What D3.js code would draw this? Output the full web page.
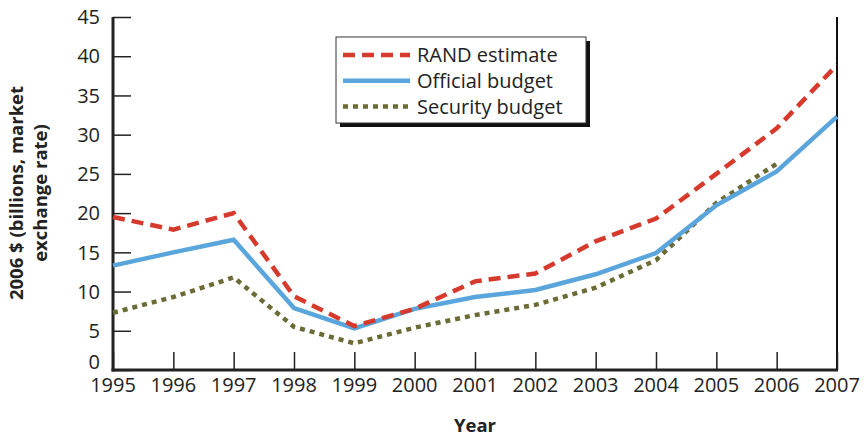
<!DOCTYPE html>
<html><head><meta charset="utf-8">
<script src="https://cdn.jsdelivr.net/npm/d3@7"></script>
<style>body{margin:0;background:#fff}svg{display:block}</style>
</head><body>
<svg id="c" width="866" height="440"></svg>
<script>
const years = [1995,1996,1997,1998,1999,2000,2001,2002,2003,2004,2005,2006,2007];
const randEstimate   = [19.5,17.9,20.0,9.4,5.6,7.8,11.3,12.3,16.4,19.3,25.0,30.8,38.9];
const officialBudget = [13.3,15.0,16.6,7.9,5.3,7.8,9.3,10.2,12.2,14.9,21.0,25.3,32.3];
const securityBudget = [7.3,9.3,11.8,5.5,3.4,5.4,7.0,8.3,10.5,14.0,21.3,26.3,null];
const yTicks = [0,5,10,15,20,25,30,35,40,45];
const seriesNames = ["RAND estimate","Official budget","Security budget"];

const font = "'Open Sans', 'Noto Sans', sans-serif";
const svg = d3.select("#c");
const x = d3.scaleLinear().domain([1995,2007]).range([113,837]);
const y = d3.scaleLinear().domain([0,45]).range([370,17]);

// right border
svg.append("line").attr("x1",837).attr("x2",837).attr("y1",17).attr("y2",370)
  .attr("stroke","#111").attr("stroke-width",2);

// y axis
const ya = svg.append("g").attr("transform","translate(113,0)")
  .call(d3.axisRight(y).tickValues(yTicks).tickSize(18).tickFormat(""));
ya.select(".domain").remove();
ya.selectAll(".tick line").attr("stroke","#222").attr("stroke-width",1.5);
svg.append("g").selectAll("text").data(yTicks).join("text")
  .attr("x",100).attr("y",d=>y(d) - (d===0?8:0)).attr("dy","0.36em").attr("text-anchor","end")
  .attr("font-family",font).attr("font-size",20).attr("fill","#222").text(d=>d);

// x axis
const xa = svg.append("g").attr("transform","translate(0,370)")
  .call(d3.axisTop(x).tickValues(years).tickSize(18).tickFormat(""));
xa.select(".domain").remove();
xa.selectAll(".tick line").attr("stroke","#222").attr("stroke-width",1.5);
svg.append("g").selectAll("text").data(years).join("text")
  .attr("x",d=>x(d)).attr("y",392).attr("text-anchor","middle")
  .attr("font-family",font).attr("font-size",20).attr("fill","#222").text(d=>d);

svg.append("line").attr("x1",113).attr("x2",113).attr("y1",17).attr("y2",371.5)
  .attr("stroke","#222").attr("stroke-width",3);
svg.append("line").attr("x1",111.5).attr("x2",838).attr("y1",370).attr("y2",370)
  .attr("stroke","#222").attr("stroke-width",3);

// lines
const line = d3.line().defined(d=>d[1]!=null).x(d=>x(d[0])).y(d=>y(d[1]));
const styles = [
  {data:securityBudget, color:"#6b6b35", dash:"5,5", w:4.5},
  {data:officialBudget, color:"#5aa5dc", dash:null, w:4.5},
  {data:randEstimate, color:"#d63a2c", dash:"12,7", w:4.5}
];
styles.forEach(s=>{
  svg.append("path").datum(years.map((yr,i)=>[yr,s.data[i]]))
    .attr("d",line).attr("fill","none").attr("stroke",s.color)
    .attr("stroke-width",s.w).attr("stroke-dasharray",s.dash);
});

// legend
const lg = svg.append("g");
lg.append("rect").attr("x",340).attr("y",41).attr("width",250).attr("height",86).attr("fill","#111");
lg.append("rect").attr("x",336).attr("y",37).attr("width",250).attr("height",86)
  .attr("fill","#fff").attr("stroke","#333").attr("stroke-width",1);
const legStyles = [styles[2],styles[1],styles[0]];
seriesNames.forEach((n,i)=>{
  const yy = 55 + i*25.8;
  lg.append("line").attr("x1",343).attr("x2",410).attr("y1",yy).attr("y2",yy)
    .attr("stroke",legStyles[i].color).attr("stroke-width",4.5).attr("stroke-dasharray",legStyles[i].dash);
  lg.append("text").attr("x",417).attr("y",yy).attr("dy","0.36em")
    .attr("font-family",font).attr("font-size",20).attr("fill","#222").text(n);
});

// axis titles
svg.append("text").attr("transform","translate(16,193) rotate(-90)")
  .attr("text-anchor","middle").attr("dy","0.36em")
  .attr("font-family",font).attr("font-weight","bold").attr("font-size",18.5).attr("fill","#222")
  .text("2006 $ (billions, market");
svg.append("text").attr("transform","translate(40,193) rotate(-90)")
  .attr("text-anchor","middle").attr("dy","0.36em")
  .attr("font-family",font).attr("font-weight","bold").attr("font-size",18.5).attr("fill","#222")
  .text("exchange rate)");
svg.append("text").attr("x",475).attr("y",432).attr("text-anchor","middle")
  .attr("font-family",font).attr("font-weight","bold").attr("font-size",18.5).attr("fill","#222")
  .text("Year");
</script>
</body></html>
